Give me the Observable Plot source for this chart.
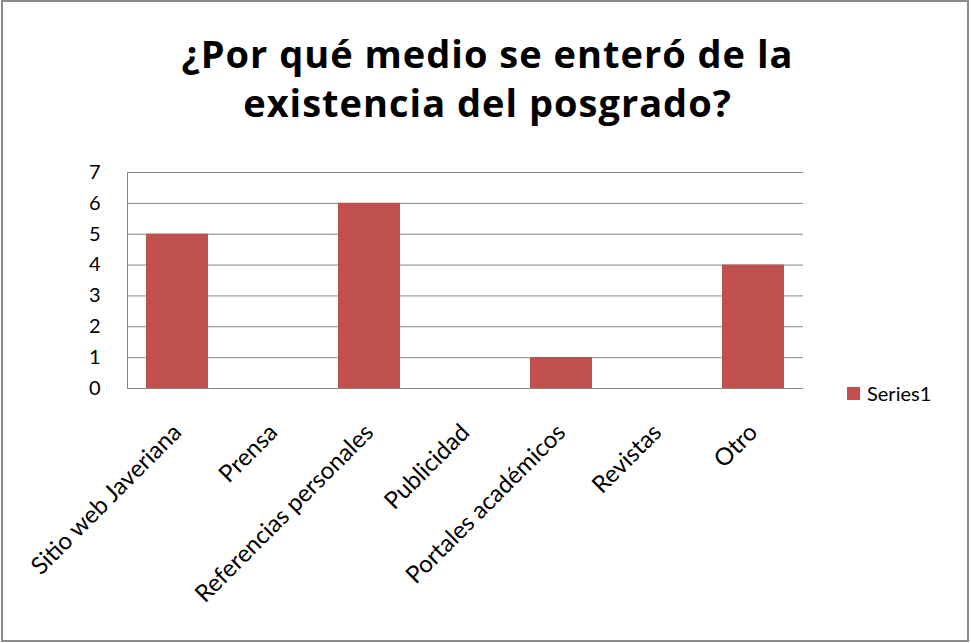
<!DOCTYPE html>
<html>
<head>
<meta charset="utf-8">
<script src="https://cdn.jsdelivr.net/npm/d3@7"></script>
<script src="https://cdn.jsdelivr.net/npm/@observablehq/plot@0.6"></script>
<style>
  html, body { margin: 0; padding: 0; background: #fff; }
  #wrap { position: relative; width: 971px; height: 643px; overflow: hidden; font-family: Lato, "Open Sans", sans-serif; }
  #frame { position: absolute; left: 1px; top: 0px; width: 964px; height: 638px; border: 2px solid #8a8a8a; pointer-events: none; }
  #title { position: absolute; left: 0; top: 0; width: 975px; height: 150px; text-align: center; font-family: "Open Sans", sans-serif; font-weight: bold; font-size: 38px; letter-spacing: 1px; line-height: 49px; padding-top: 29px; box-sizing: border-box; color: #000; }
  #chart { position: absolute; left: 0; top: 150px; }
  #legend { position: absolute; left: 847px; top: 381px; font-size: 20px; color: #000; display: flex; align-items: center; }
  #legend .sw { width: 13px; height: 13px; background: #C0504D; margin-right: 7px; }
</style>
</head>
<body>
<div id="wrap">
  <div id="title">¿Por qué medio se enteró de la<br>existencia del posgrado?</div>
  <div id="chart"></div>
  <div id="legend"><span class="sw"></span><span id="legendText"></span></div>
  <div id="frame"></div>
</div>
<script>
const categories = ["Sitio web Javeriana", "Prensa", "Referencias personales", "Publicidad", "Portales académicos", "Revistas", "Otro"];
const values = [5, 0, 6, 0, 1, 0, 4];
const seriesName = "Series1";
const yTicks = [0, 1, 2, 3, 4, 5, 6, 7];

const data = categories.map((c, i) => ({category: c, value: values[i]}));
document.getElementById("legendText").textContent = seriesName;

const chart = Plot.plot({
  width: 971,
  height: 493,
  marginLeft: 127,
  marginRight: 168,
  marginTop: 22,
  marginBottom: 255,
  style: {fontFamily: "Lato, 'Open Sans', sans-serif", fontSize: "20px", color: "#000", background: "transparent"},
  x: {domain: categories, paddingInner: 0.354, paddingOuter: 0.177, label: null},
  y: {domain: [0, 7], ticks: yTicks, label: null},
  marks: [
    Plot.ruleY(yTicks, {stroke: "#868686", strokeWidth: 1, strokeOpacity: 1}),
    Plot.frame({anchor: "left", stroke: "#868686", strokeOpacity: 1}),
    Plot.barY(data, {x: "category", y: "value", fill: "#C0504D"}),
    Plot.axisY({ticks: yTicks, tickFormat: d3.format("d"), tickSize: 0, tickPadding: 27, fontSize: 20, label: null}),
    Plot.axisX({tickSize: 0, tickRotate: -45, tickPadding: 40, fontSize: 24, label: null})
  ]
});
document.getElementById("chart").appendChild(chart);
</script>
</body>
</html>
